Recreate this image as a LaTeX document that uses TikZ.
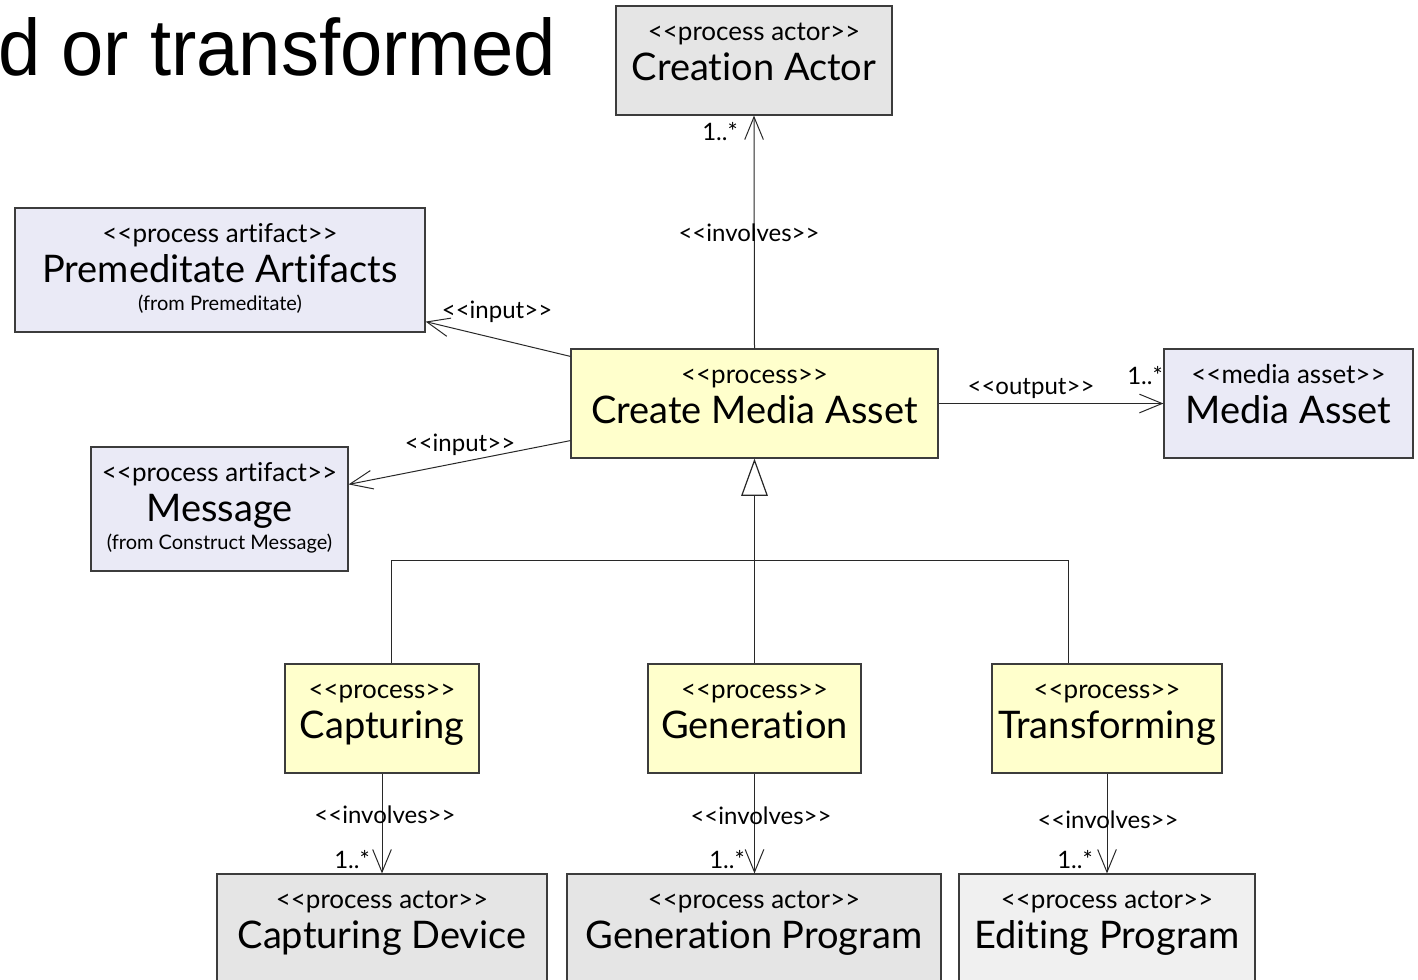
\documentclass[tikz,border=0pt]{standalone}
\usepackage{fontspec}
\setmainfont{Lato}[Ligatures={NoCommon}]
\newfontfamily\titlefont{Liberation Sans}
\usetikzlibrary{arrows.meta}

\definecolor{actorfill}{RGB}{229,229,229}
\definecolor{actorlight}{RGB}{240,240,240}
\definecolor{artifactfill}{RGB}{234,234,246}
\definecolor{processfill}{RGB}{255,255,204}
\definecolor{edgecol}{RGB}{40,40,40}
\definecolor{boxline}{RGB}{60,60,60}

% guillemet-free stereotype brackets
\newcommand\stL{<\kern0pt<}
\newcommand\stR{>\kern0pt>}

\tikzset{
  umlbox/.style={draw=boxline, line width=0.9pt, rectangle, inner sep=0pt},
  actorbox/.style={umlbox, fill=actorfill},
  actorlightbox/.style={umlbox, fill=actorlight},
  artifactbox/.style={umlbox, fill=artifactfill},
  processbox/.style={umlbox, fill=processfill},
  stereo/.style={anchor=base, inner sep=0pt, font=\fontsize{19.5}{22}\selectfont},
  bigname/.style={anchor=base, inner sep=0pt, font=\fontsize{28.5}{32}\selectfont},
  origin/.style={anchor=base, inner sep=0pt, font=\fontsize{15}{18}\selectfont},
  elabel/.style={inner sep=0pt, font=\fontsize{18}{20}\selectfont},
  mult/.style={inner sep=0pt, font=\fontsize{18}{20}\selectfont},
  link/.style={draw=edgecol, line width=0.75pt},
  assoc/.style={link, -{Straight Barb[length=17pt,width=14pt,line width=0.75pt]}},
  gen/.style={link, -{Triangle[open,length=28pt,width=20pt,line width=0.9pt,fill=white]}},
}

\begin{document}
\begin{tikzpicture}[x=0.75pt,y=-0.75pt]
\useasboundingbox (0,0) rectangle (1418,979);

% heading fragment
\node[anchor=base west, inner sep=0pt, font=\titlefont\fontsize{60}{66}\selectfont]
  (heading) at (-2,75) {\scalebox{0.95}[1]{d or transformed}};

% --- boxes ---
\node[actorbox, minimum width=207pt, minimum height=81.75pt] (creator) at (754,60.5) {};
\node[stereo] (creatorS) at ([yshift=-26.5pt]creator.north) {\stL process actor\stR};
\node[bigname] (creatorN) at ([yshift=-56.5pt]creator.north) {Creation Actor};

\node[artifactbox, minimum width=307.5pt, minimum height=93pt] (premed) at (220,270) {};
\node[stereo] (premedS) at ([yshift=-26.5pt]premed.north) {\stL process artifact\stR};
\node[bigname] (premedN) at ([yshift=-56.5pt]premed.north) {Premeditate Artifacts};
\node[origin] (premedO) at ([yshift=-77pt]premed.north) {(from Premeditate)};

\node[artifactbox, minimum width=192.75pt, minimum height=93pt] (message) at (219.5,509) {};
\node[stereo] (messageS) at ([yshift=-26.5pt]message.north) {\stL process artifact\stR};
\node[bigname] (messageN) at ([yshift=-56.5pt]message.north) {Message};
\node[origin] (messageO) at ([yshift=-77pt]message.north) {(from Construct Message)};

\node[processbox, minimum width=275.25pt, minimum height=81.75pt] (cma) at (754.5,403.5) {};
\node[stereo] (cmaS) at ([yshift=-26.5pt]cma.north) {\stL process\stR};
\node[bigname] (cmaN) at ([yshift=-56.5pt]cma.north) {Create Media Asset};

\node[artifactbox, minimum width=186.75pt, minimum height=81.75pt] (media) at (1288.5,403.5) {};
\node[stereo] (mediaS) at ([yshift=-26.5pt]media.north) {\stL media asset\stR};
\node[bigname] (mediaN) at ([yshift=-56.5pt]media.north) {Media Asset};

\node[processbox, minimum width=145.5pt, minimum height=81.75pt] (capt) at (382,718.5) {};
\node[stereo] (captS) at ([yshift=-26.5pt]capt.north) {\stL process\stR};
\node[bigname] (captN) at ([yshift=-56.5pt]capt.north) {Capturing};

\node[processbox, minimum width=159.75pt, minimum height=81.75pt] (genp) at (754.5,718.5) {};
\node[stereo] (genpS) at ([yshift=-26.5pt]genp.north) {\stL process\stR};
\node[bigname] (genpN) at ([yshift=-56.5pt]genp.north) {Generation};

\node[processbox, minimum width=172.5pt, minimum height=81.75pt] (trans) at (1107,718.5) {};
\node[stereo] (transS) at ([yshift=-26.5pt]trans.north) {\stL process\stR};
\node[bigname] (transN) at ([yshift=-56.5pt]trans.north) {Transforming};

\node[actorbox, minimum width=247.5pt, minimum height=93pt] (capdev) at (382,936) {};
\node[stereo] (capdevS) at ([yshift=-26.5pt]capdev.north) {\stL process actor\stR};
\node[bigname] (capdevN) at ([yshift=-56.5pt]capdev.north) {Capturing Device};

\node[actorbox, minimum width=280.5pt, minimum height=93pt] (genprog) at (754,936) {};
\node[stereo] (genprogS) at ([yshift=-26.5pt]genprog.north) {\stL process actor\stR};
\node[bigname] (genprogN) at ([yshift=-56.5pt]genprog.north) {Generation Program};

\node[actorlightbox, minimum width=222pt, minimum height=93pt] (editprog) at (1107,936) {};
\node[stereo] (editprogS) at ([yshift=-26.5pt]editprog.north) {\stL process actor\stR};
\node[bigname] (editprogN) at ([yshift=-56.5pt]editprog.north) {Editing Program};

% --- associations ---
\draw[assoc] (cma.north) -- (creator.south);
\node[elabel] (lInvTop) at (749,233) {\stL involves\stR};
\node[mult] (mCreator) at (720,132) {1..*};

\draw[assoc] ([yshift=-6pt]cma.north west) -- ([yshift=8.25pt]premed.south east);
\node[elabel] (lInput1) at (497,312) {\stL input\stR};

\draw[assoc] ([yshift=13.5pt]cma.south west) -- ([yshift=-28.5pt]message.north east);
\node[elabel] (lInput2) at (460,445) {\stL input\stR};

\draw[assoc] (cma.east) -- (media.west);
\node[elabel] (lOutput) at (1031,388) {\stL output\stR};
\node[mult] (mMedia) at (1145,376) {1..*};

% --- generalisation tree ---
\coordinate (junc) at (754.5,560);
\coordinate (leftArm) at (391,560);
\coordinate (rightArm) at (1068,560);
\draw[gen] (junc) -- (cma.south);
\draw[link] (genp.north) -- (junc);
\draw[link] (capt.north -| leftArm) -- (leftArm) -- (rightArm) -- (trans.north -| rightArm);

% --- involvement of actors ---
\draw[assoc] (capt.south) -- (capdev.north);
\node[elabel] (lInvCapt) at (385,815) {\stL involves\stR};
\node[mult] (mCapt) at (352,860) {1..*};

\draw[assoc] (genp.south) -- (genp.south |- genprog.north);
\node[elabel] (lInvGen) at (761,816) {\stL involves\stR};
\node[mult] (mGen) at (727,860) {1..*};

\draw[assoc] (trans.south) -- (editprog.north);
\node[elabel] (lInvTrans) at (1108,820) {\stL involves\stR};
\node[mult] (mTrans) at (1075,860) {1..*};
\end{tikzpicture}
\end{document}
